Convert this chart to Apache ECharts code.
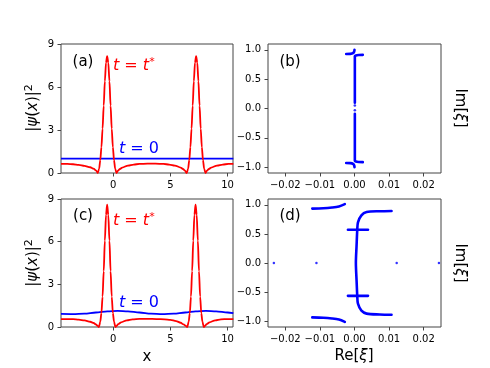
<!DOCTYPE html>
<html>
<head>
<meta charset="utf-8">
<script src="https://cdn.jsdelivr.net/npm/echarts@6/dist/echarts.min.js"></script>
<style>
  html, body { margin: 0; padding: 0; background: #fff; }
  #chart { width: 490px; height: 368px; }
</style>
</head>
<body>
<div id="chart"></div>
<script>
// panel (a): |psi|^2 at t = t* (red) and t = 0 (blue)
const xRedA = [-4.55, -4.0, -3.5, -3.0, -2.5, -2.0, -1.7, -1.5, -1.34,
  -1.22, -1.12, -1.02, -0.92, -0.82, -0.72, -0.62, -0.52, -0.42, -0.32, -0.22, -0.12, -0.02, 0.08, 0.18, 0.3,
  0.45, 0.6, 0.8, 1.3, 1.8, 2.3, 3.0, 3.7, 4.4, 4.9, 5.4, 5.9, 6.1, 6.25, 6.43,
  6.55, 6.65, 6.75, 6.85, 6.95, 7.05, 7.15, 7.25, 7.35, 7.45, 7.55, 7.65, 7.75, 7.85, 7.95, 8.07,
  8.22, 8.37, 8.57, 9.07, 9.57, 10.07, 10.5]
const yRedA = [0.64, 0.63, 0.61, 0.57, 0.5, 0.4, 0.3, 0.18, 0.0,
  0.3, 0.9, 1.8, 3.1, 4.7, 6.4, 7.7, 8.15, 7.7, 6.4, 4.7, 3.1, 1.8, 0.9, 0.3, 0.0,
  0.18, 0.28, 0.38, 0.52, 0.59, 0.63, 0.65, 0.65, 0.63, 0.59, 0.52, 0.38, 0.28, 0.18, 0.0,
  0.3, 0.9, 1.8, 3.1, 4.7, 6.4, 7.7, 8.15, 7.7, 6.4, 4.7, 3.1, 1.8, 0.9, 0.3, 0.0,
  0.18, 0.28, 0.38, 0.52, 0.59, 0.63, 0.64]
const xBlueA = [-4.55, 0, 5, 10.5]
const yBlueA = [1.0, 1.0, 1.0, 1.0]

// panel (c)
const xRedC = [-4.55, -4.0, -3.5, -3.0, -2.5, -2.0, -1.7, -1.5, -1.35, -1.24,
  -1.12, -1.02, -0.92, -0.82, -0.72, -0.62, -0.52, -0.42, -0.32, -0.22, -0.12, -0.02, 0.08, 0.2,
  0.3, 0.45, 0.7, 1.2, 1.7, 2.3, 3.0, 3.8, 4.5, 5.0, 5.5, 5.9, 6.15, 6.35, 6.48,
  6.6, 6.7, 6.8, 6.9, 7.0, 7.1, 7.2, 7.3, 7.4, 7.5, 7.6, 7.7, 7.8, 7.92,
  8.02, 8.17, 8.42, 8.92, 9.42, 10.0, 10.5]
const yRedC = [0.56, 0.56, 0.55, 0.52, 0.46, 0.37, 0.28, 0.18, 0.08, 0.0,
  0.38, 0.98, 2.14, 3.93, 6.07, 7.88, 8.6, 7.88, 6.07, 3.93, 2.14, 0.98, 0.38, 0.0,
  0.08, 0.2, 0.33, 0.47, 0.54, 0.57, 0.57, 0.56, 0.54, 0.5, 0.42, 0.3, 0.18, 0.08, 0.0,
  0.38, 0.98, 2.14, 3.93, 6.07, 7.88, 8.6, 7.88, 6.07, 3.93, 2.14, 0.98, 0.38, 0.0,
  0.08, 0.2, 0.33, 0.47, 0.54, 0.56, 0.56]
const xBlueC = [-4.55, -3.5, -2.5, -1.5, -0.5, 0.4, 1.3, 2.3, 3.3, 4.3, 5.3, 6.3, 7.2, 8.1, 9.0, 10.0, 10.5]
const yBlueC = [0.92, 0.91, 0.94, 1.02, 1.1, 1.13, 1.1, 1.02, 0.94, 0.91, 0.94, 1.02, 1.1, 1.13, 1.1, 1.02, 0.97]

// panel (b): [Re, Im] pairs
const bUpper = [[0.0024, 0.915], [0.0012, 0.913], [0.0004, 0.905], [0.0001, 0.89], [0.0001, 0.8], [0.0001, 0.5], [0.0001, 0.1]]
const bLower = [[0.0001, -0.09], [0.0001, -0.5], [0.0001, -0.8], [0.0001, -0.89], [0.0004, -0.905], [0.0012, -0.913], [0.0024, -0.915]]
const bTopHook = [[-0.0024, 0.93], [-0.0012, 0.932], [-0.0004, 0.945], [-0.0001, 0.97], [0.0, 1.0]]
const bBotHook = [[-0.0024, -0.93], [-0.0012, -0.932], [-0.0004, -0.945], [-0.0001, -0.97], [0.0, -1.0]]
const bDots = [[0.0001, 0.05], [0.0001, -0.03]]

// panel (d)
const dStem = [[0.0107, 0.895], [0.0073, 0.89], [0.0035, 0.875], [0.002, 0.82], [0.001, 0.7], [0.0008, 0.57],
  [0.0006, 0.3], [0.0004, 0.0], [0.0006, -0.3], [0.0008, -0.57], [0.001, -0.7], [0.002, -0.82],
  [0.0035, -0.87], [0.0073, -0.885], [0.0107, -0.89]]
const dCrossTop = [[-0.0019, 0.572], [0.0039, 0.572]]
const dCrossBot = [[-0.0019, -0.565], [0.0039, -0.565]]
const dLeftTop = [[-0.0122, 0.935], [-0.009, 0.94], [-0.0065, 0.953], [-0.0045, 0.972], [-0.0028, 1.012]]
const dLeftBot = [[-0.0122, -0.935], [-0.009, -0.94], [-0.0065, -0.953], [-0.0045, -0.972], [-0.0028, -1.012]]
const dDots = [[-0.0233, 0], [-0.011, 0], [0.0122, 0], [0.0244, 0]]

const xTicksLeft = [0, 5, 10]
const reTicks = [-0.02, -0.01, 0, 0.01, 0.02]
const imTicks = [-1, -0.5, 0, 0.5, 1]

const FONT = 'DejaVu Sans'
const AXIS = '#444'
const RED = '#ff0000'
const BLUE = '#0000ff'

const zip = (xs, ys) => xs.map((x, i) => [x, ys[i]])
const minus = s => s.replace('-', '\u2212')

function xAxisLeft(idx) {
  return {
    gridIndex: idx, type: 'value', min: -4.55, max: 10.47,
    axisLine: { show: false, onZero: false },
    axisTick: { customValues: xTicksLeft, length: 3.5, lineStyle: { color: AXIS } },
    axisLabel: { customValues: xTicksLeft, margin: 7, fontFamily: FONT, fontSize: 10, color: '#000' },
    splitLine: { show: false }
  }
}
function yAxisLeft(idx) {
  return {
    gridIndex: idx, type: 'value', min: 0, max: 9, interval: 3,
    axisLine: { show: false, onZero: false },
    axisTick: { length: 3.5, lineStyle: { color: AXIS } },
    axisLabel: { margin: 7, fontFamily: FONT, fontSize: 10, color: '#000' },
    splitLine: { show: false }
  }
}
function xAxisRight(idx) {
  return {
    gridIndex: idx, type: 'value', min: -0.025, max: 0.025,
    axisLine: { show: false, onZero: false },
    axisTick: { customValues: reTicks, length: 3.5, lineStyle: { color: AXIS } },
    axisLabel: {
      customValues: reTicks, margin: 7, fontFamily: FONT, fontSize: 10, color: '#000',
      formatter: v => minus(v.toFixed(2))
    },
    splitLine: { show: false }
  }
}
function yAxisRight(idx) {
  return {
    gridIndex: idx, type: 'value', min: -1.1, max: 1.1,
    axisLine: { show: false, onZero: false },
    axisTick: { customValues: imTicks, length: 3.5, lineStyle: { color: AXIS } },
    axisLabel: {
      customValues: imTicks, margin: 7, fontFamily: FONT, fontSize: 10, color: '#000',
      formatter: v => minus(v.toFixed(1))
    },
    splitLine: { show: false }
  }
}

function curve(idx, data, color) {
  return {
    type: 'line', xAxisIndex: idx, yAxisIndex: idx, data: data,
    showSymbol: false, smooth: 0.3, smoothMonotone: 'x', silent: true,
    lineStyle: { color: color, width: 1.8 }
  }
}
function branch(idx, data) {
  return {
    type: 'line', xAxisIndex: idx, yAxisIndex: idx, data: data,
    showSymbol: false, smooth: 0.3, silent: true,
    lineStyle: { color: BLUE, width: 2.6, cap: 'round' }
  }
}
function dots(idx, data, size) {
  return {
    type: 'scatter', xAxisIndex: idx, yAxisIndex: idx, data: data,
    symbolSize: size, silent: true, itemStyle: { color: BLUE }
  }
}

function txt(x, y, text, color, size, opts) {
  opts = opts || {}
  return {
    type: 'text', x: x, y: y, rotation: opts.rot || 0, silent: true,
    style: {
      text: text, fill: color, fontFamily: FONT, fontSize: size,
      align: opts.align || 'center', verticalAlign: 'middle',
      rich: opts.rich
    }
  }
}

const richMath = size => ({
  i: { fontFamily: FONT, fontStyle: 'italic', fontSize: size },
  n: { fontFamily: FONT, fontSize: size },
  s: { fontFamily: FONT, fontSize: Math.round(size * 0.7), verticalAlign: 'top', padding: [0, 0, 8, 0] }
})

const chart = echarts.init(document.getElementById('chart'), null, { renderer: 'canvas' })
const gridStyle = { show: true, borderColor: AXIS, borderWidth: 1, backgroundColor: 'transparent' }

chart.setOption({
  animation: false,
  backgroundColor: '#fff',
  grid: [
    Object.assign({ left: 61, top: 44, width: 172, height: 129 }, gridStyle),
    Object.assign({ left: 268, top: 44, width: 173, height: 129 }, gridStyle),
    Object.assign({ left: 61, top: 199, width: 172, height: 128 }, gridStyle),
    Object.assign({ left: 268, top: 199, width: 173, height: 128 }, gridStyle)
  ],
  xAxis: [xAxisLeft(0), xAxisRight(1), xAxisLeft(2), xAxisRight(3)],
  yAxis: [yAxisLeft(0), yAxisRight(1), yAxisLeft(2), yAxisRight(3)],
  series: [
    curve(0, zip(xBlueA, yBlueA), BLUE),
    curve(0, zip(xRedA, yRedA), RED),
    curve(2, zip(xBlueC, yBlueC), BLUE),
    curve(2, zip(xRedC, yRedC), RED),
    branch(1, bUpper), branch(1, bLower), branch(1, bTopHook), branch(1, bBotHook),
    dots(1, bDots, 2.6),
    branch(3, dStem), branch(3, dCrossTop), branch(3, dCrossBot),
    branch(3, dLeftTop), branch(3, dLeftBot),
    dots(3, dDots, 2.5)
  ],
  graphic: [
    txt(83, 62, '(a)', '#000', 15),
    txt(290, 62, '(b)', '#000', 15),
    txt(83, 216, '(c)', '#000', 15),
    txt(290, 216, '(d)', '#000', 15),
    txt(113, 66, '{i|t}{n| = }{i|t}{s|*}', RED, 16, { align: 'left', rich: richMath(16) }),
    txt(113, 221, '{i|t}{n| = }{i|t}{s|*}', RED, 16, { align: 'left', rich: richMath(16) }),
    txt(119, 149, '{i|t}{n| = 0}', BLUE, 16, { align: 'left', rich: richMath(16) }),
    txt(119, 303, '{i|t}{n| = 0}', BLUE, 16, { align: 'left', rich: richMath(16) }),
    txt(33, 108, '{n||}{i|ψ}{n|(}{i|x}{n|)|}{s|2}', '#000', 15, { rot: Math.PI / 2, rich: richMath(15) }),
    txt(33, 263, '{n||}{i|ψ}{n|(}{i|x}{n|)|}{s|2}', '#000', 15, { rot: Math.PI / 2, rich: richMath(15) }),
    txt(460, 108, '{n|Im[}{i|ξ}{n|]}', '#000', 15, { rot: -Math.PI / 2, rich: richMath(15) }),
    txt(460, 263, '{n|Im[}{i|ξ}{n|]}', '#000', 15, { rot: -Math.PI / 2, rich: richMath(15) }),
    txt(147, 357, 'x', '#000', 15),
    txt(354, 356, '{n|Re[}{i|ξ}{n|]}', '#000', 15, { rich: richMath(15) })
  ]
})
</script>
</body>
</html>
